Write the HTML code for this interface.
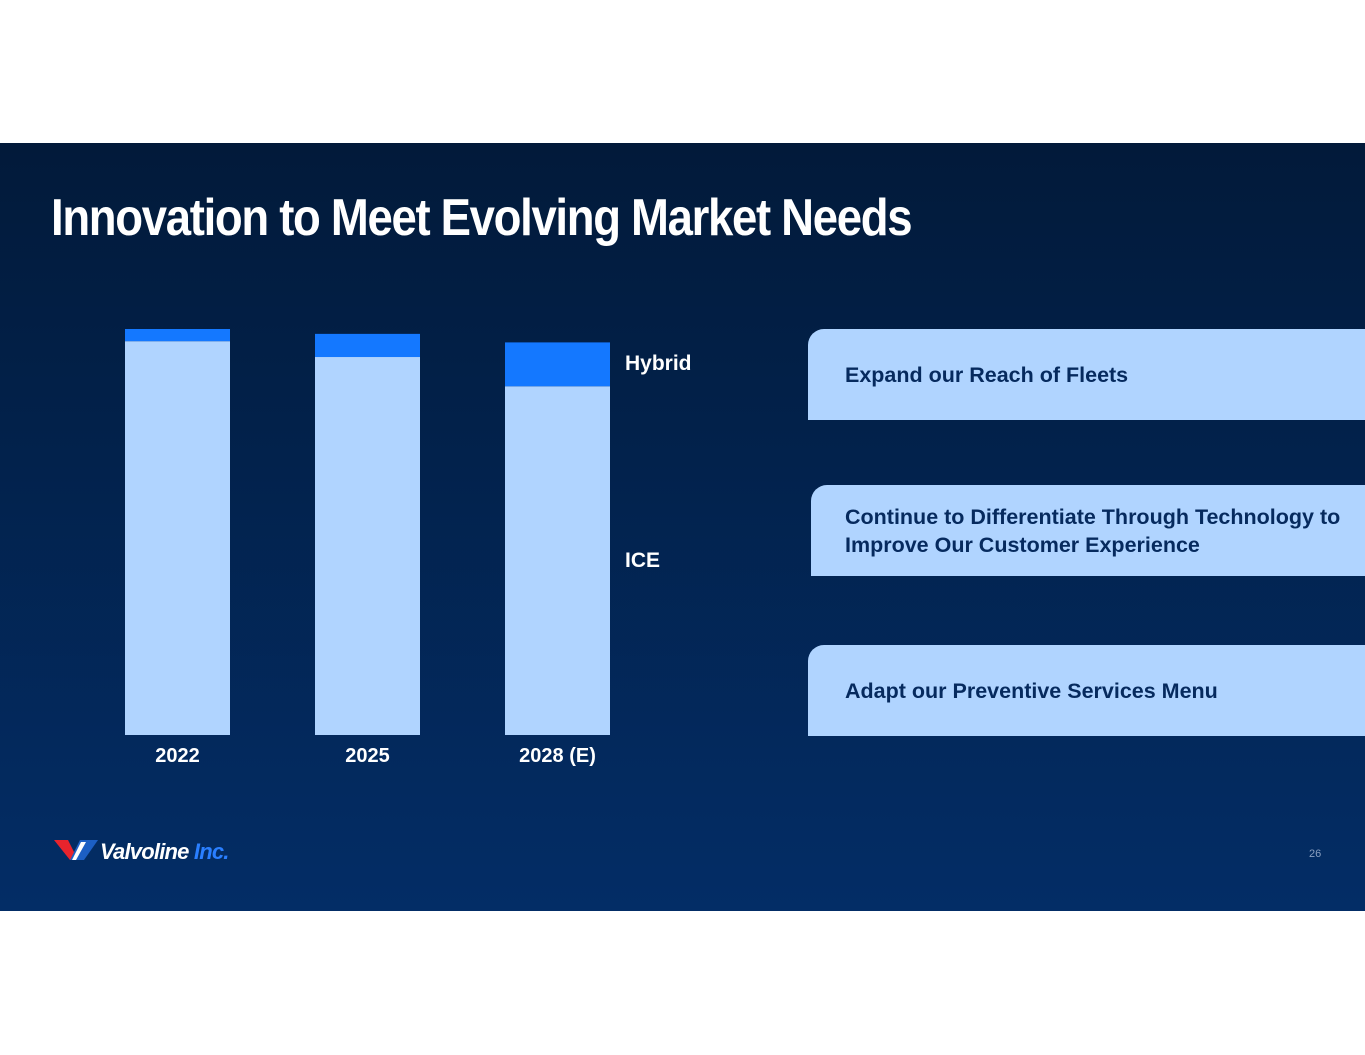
<!DOCTYPE html>
<html><head><meta charset="utf-8"><style>
html,body{margin:0;padding:0;background:#fff;width:1365px;height:1055px;overflow:hidden;font-family:"Liberation Sans",sans-serif}
#slide{position:absolute;left:0;top:143px;width:1365px;height:768px;background:linear-gradient(#021a3a,#032d66)}
.title{position:absolute;left:51px;top:188px;color:#fff;font-size:52px;font-weight:bold;letter-spacing:-1.5px;transform:scaleX(0.875);transform-origin:left top;white-space:nowrap}
.box{position:absolute;right:0;background:#b0d4ff;border-top-left-radius:16px;color:#062a5e;font-weight:bold;font-size:21.5px;box-sizing:border-box;padding-left:37px;display:flex;align-items:center;line-height:28px}
.lbl{position:absolute;color:#fff;font-weight:bold;font-size:21px}
</style></head><body>
<div id="slide"></div>
<div class="title">Innovation to Meet Evolving Market Needs</div>
<svg id="chart" width="1365" height="1055" style="position:absolute;left:0;top:0"></svg>
<div class="lbl" style="left:625px;top:352px">Hybrid</div>
<div class="lbl" style="left:625px;top:549px">ICE</div>
<div class="box" style="left:808px;top:329px;height:91px">Expand our Reach of Fleets</div>
<div class="box" style="left:811px;top:485px;height:91px;padding-left:34px">Continue to Differentiate Through Technology to<br>Improve Our Customer Experience</div>
<div class="box" style="left:808px;top:645px;height:91px">Adapt our Preventive Services Menu</div>
<svg style="position:absolute;left:54px;top:838px" width="45" height="24">
<polygon points="0,2 14,2 24,22 16,22" fill="#e8242d"/><polygon points="16,22 26,2 44,2 30,22" fill="#1c5fc4"/><polygon points="18,22 27,4 32,4 22,22" fill="#fff"/>
</svg>
<div style="position:absolute;left:100px;top:839px;font-weight:bold;font-size:22px;color:#fff;letter-spacing:-0.8px;font-style:italic">Valvoline <span style="color:#2a7fff">Inc.</span></div>
<div style="position:absolute;left:1309px;top:848px;font-size:11px;color:#8aa0c0">26</div>
<script>
const categories=["2022","2025","2028 (E)"];
const iceValues=[97.0,93.1,85.9];
const hybridValues=[3.0,5.7,10.8];
const svg=document.getElementById('chart');
const NS='http://www.w3.org/2000/svg';
const baseY=735, pxPerUnit=406/100, x0=125, step=190, bw=105;
function xPos(i){return x0+i*step;}
function yPos(v){return baseY-v*pxPerUnit;}
categories.forEach((c,i)=>{
  const ice=document.createElementNS(NS,'rect');
  ice.setAttribute('x',xPos(i));ice.setAttribute('width',bw);
  ice.setAttribute('y',yPos(iceValues[i]));ice.setAttribute('height',baseY-yPos(iceValues[i]));
  ice.setAttribute('fill','#b0d4ff');
  
  
  svg.appendChild(ice);
  const hy=document.createElementNS(NS,'rect');
  const top=yPos(iceValues[i]+hybridValues[i]);
  hy.setAttribute('x',xPos(i));hy.setAttribute('width',bw);
  hy.setAttribute('y',top);hy.setAttribute('height',yPos(iceValues[i])-top);
  hy.setAttribute('fill','#1478ff');
  
  
  svg.appendChild(hy);
  const t=document.createElementNS(NS,'text');
  t.setAttribute('x',xPos(i)+bw/2);t.setAttribute('y',762);
  t.setAttribute('text-anchor','middle');t.setAttribute('fill','#fff');
  t.setAttribute('font-size','20');t.setAttribute('font-weight','bold');
  t.setAttribute('font-family','Liberation Sans, sans-serif');
  t.textContent=c;
  
  
  svg.appendChild(t);
});
</script>
</body></html>
